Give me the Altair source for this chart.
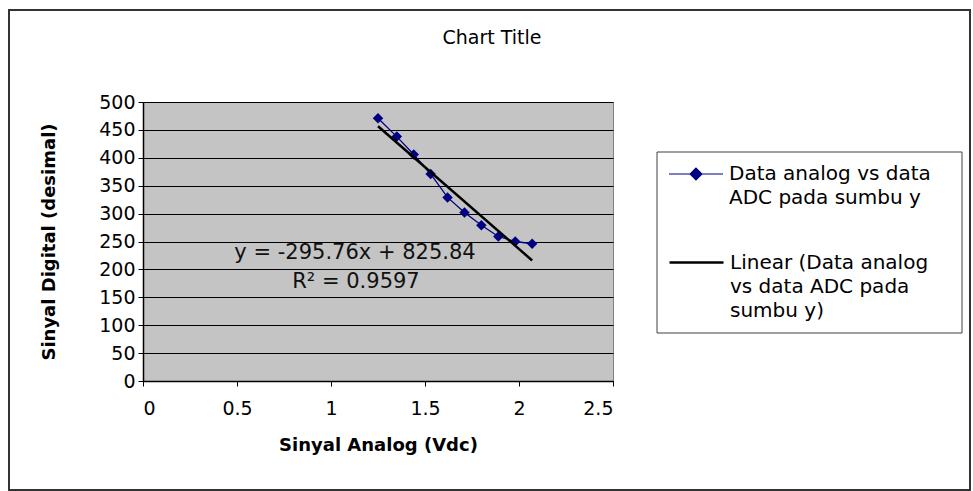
import altair as alt
import pandas as pd

# ---- data ----
x_vdc = [1.25, 1.35, 1.44, 1.53, 1.62, 1.71, 1.80, 1.89, 1.98, 2.07]
y_adc = [471, 438, 406, 371, 329, 302, 279, 259, 250, 246]
series_data = "Data analog vs data ADC pada sumbu y"
series_trend = "Linear (Data analog vs data ADC pada sumbu y)"
x_ticks = [0, 0.5, 1, 1.5, 2, 2.5]
y_ticks = [0, 50, 100, 150, 200, 250, 300, 350, 400, 450, 500]
equation_text = "y = -295.76x + 825.84"
r2_text = "R² = 0.9597"
chart_title = "Chart Title"
x_title = "Sinyal Analog (Vdc)"
y_title = "Sinyal Digital (desimal)"

FONT = "DejaVu Sans"
NAVY = "#000080"

df = pd.DataFrame({"x": x_vdc, "y": y_adc, "series": series_data})
one = pd.DataFrame({"k": [0]})

xenc = alt.X("x:Q", scale=alt.Scale(domain=[0, 2.5], nice=False, zero=False),
             axis=alt.Axis(values=x_ticks, title=x_title, grid=False, format="~g",
                           labelPadding=13, titlePadding=18))
yenc = alt.Y("y:Q", scale=alt.Scale(domain=[0, 500], nice=False),
             axis=alt.Axis(values=y_ticks, title=y_title, grid=True, format="d",
                           labelPadding=3, titlePadding=40))

frame = alt.Chart(one).mark_rect(fillOpacity=0, stroke="#333333", strokeWidth=2).encode(
    x=alt.value(-134), x2=alt.value(827), y=alt.value(-92), y2=alt.value(388))

legend_box = alt.Chart(one).mark_rect(fill="white", stroke="#404040", strokeWidth=1).encode(
    x=alt.value(514), x2=alt.value(819), y=alt.value(50), y2=alt.value(231))

title_text = alt.Chart(one).mark_text(font=FONT, fontSize=19, color="black", align="center",
                                      baseline="middle").encode(
    x=alt.value(349), y=alt.value(-64), text=alt.value(chart_title))

data_line = alt.Chart(df).mark_line(color=NAVY, strokeWidth=1.3).encode(x=xenc, y=yenc)

points = alt.Chart(df).mark_point(shape="diamond", filled=True, size=110, opacity=1).encode(
    x=xenc, y=yenc,
    color=alt.Color("series:N",
                    scale=alt.Scale(domain=[series_data], range=[NAVY]),
                    legend=alt.Legend(
                        title=None, orient="none", legendX=525, legendY=44, padding=0,
                        symbolType="M-1,0L1,0M0,-0.22L0.22,0L0,0.22L-0.22,0Z",
                        symbolSize=2916, symbolFillColor=NAVY, symbolStrokeColor=NAVY,
                        symbolStrokeWidth=1.2, symbolOpacity=1,
                        labelExpr="['Data analog vs data', 'ADC pada sumbu y']",
                        labelFont=FONT, labelFontSize=20, labelColor="black",
                        labelOffset=5, labelLimit=0, labelBaseline="middle")))

trend = alt.Chart(df).transform_regression("x", "y").transform_calculate(
    series=f"'{series_trend}'"
).mark_line(strokeWidth=2.5).encode(
    x=xenc, y=yenc,
    color=alt.Color("series:N",
                    scale=alt.Scale(domain=[series_trend], range=["#000000"]),
                    legend=alt.Legend(
                        title=None, orient="none", legendX=525, legendY=132, padding=0,
                        symbolType="M-1,0L1,0", symbolSize=2916,
                        symbolStrokeColor="black", symbolStrokeWidth=2.5,
                        labelExpr="['Linear (Data analog', 'vs data ADC pada', 'sumbu y)']",
                        labelFont=FONT, labelFontSize=20, labelColor="black",
                        labelOffset=5, labelLimit=0, labelBaseline="middle")))

eq = alt.Chart(one).mark_text(font=FONT, fontSize=21, color="#111111", align="center",
                              baseline="middle").encode(
    x=alt.value(212), y=alt.value(151), text=alt.value(equation_text))
r2 = alt.Chart(one).mark_text(font=FONT, fontSize=21, color="#111111", align="center",
                              baseline="middle").encode(
    x=alt.value(213), y=alt.value(180), text=alt.value(r2_text))

chart = alt.layer(frame, legend_box, title_text, data_line, points, trend, eq, r2).resolve_scale(
    color="independent"
).properties(
    width=470, height=279,
    autosize=alt.AutoSizeParams(type="none"),
    padding={"left": 143, "top": 102, "right": 360, "bottom": 110},
).configure(
    background="white",
    style={"guide-label": {"lineHeight": 24}},
    view=alt.ViewConfig(fill="#c4c4c4", stroke="#808080", strokeWidth=1),
    axis=alt.AxisConfig(
        labelFont=FONT, labelFontSize=19, labelColor="black",
        titleFont=FONT, titleFontSize=18, titleFontWeight="bold", titleColor="black",
        domainColor="black", domainWidth=1.5, tickColor="black", tickSize=5, tickWidth=1,
        gridColor="black", gridWidth=1, gridOpacity=1),
)

chart.save("out.html", embed_options={"renderer": "svg", "actions": False})
